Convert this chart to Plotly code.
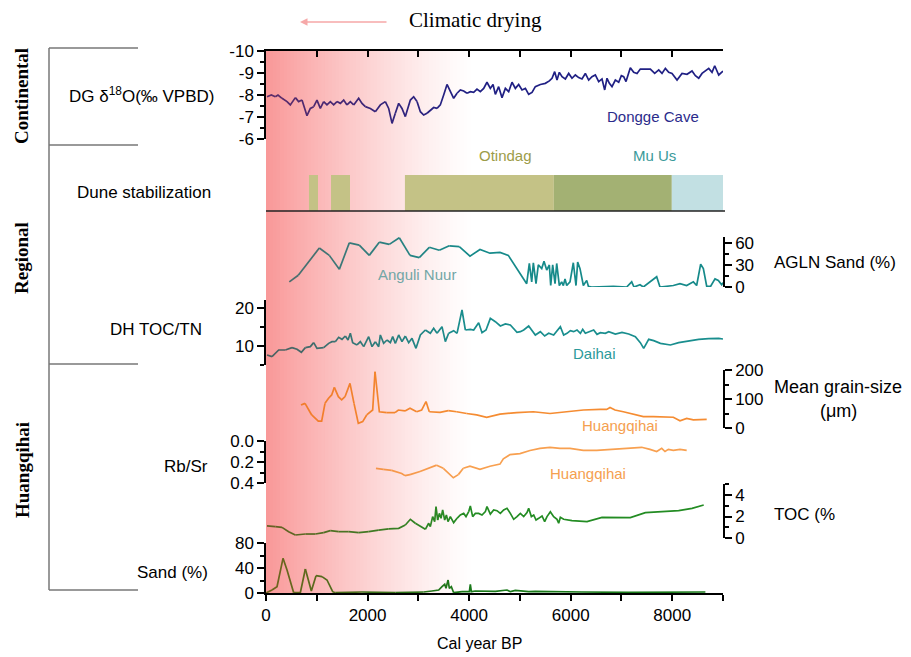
import plotly.graph_objects as go

# ---------------- data ----------------
X_TICKS = [0, 1000, 2000, 3000, 4000, 5000, 6000, 7000, 8000, 9000]
X_TICK_TEXT = ["0", "", "2000", "", "4000", "", "6000", "", "8000", ""]

DG_YEAR = [20,105,184,236,315,414,479,578,643,709,807,873,939,1004,1070,1136,1201,1267,1333,1398,
           1464,1530,1595,1661,1727,1825,1891,1956,2055,2153,2252,2350,2416,2482,2547,2613,2678,2744,2843,2908,
           2974,3040,3105,3171,3236,3302,3368,3433,3499,3565,3630,3696,3762,3827,3893,3959,4024,4090,4155,4221,
           4287,4352,4418,4471,4517,4582,4648,4714,4779,4845,4911,4976,5042,5108,5173,5239,5304,5403,5501,5580,
           5633,5685,5731,5777,5830,5895,5961,6026,6092,6158,6223,6289,6355,6420,6486,6552,6617,6670,6716,6762,
           6814,6880,6946,6998,7044,7090,7143,7175,7241,7307,7372,7471,7569,7655,7734,7799,7865,7931,7996,8095,
           8193,8292,8390,8456,8522,8587,8653,8719,8784,8837,8916,9000]
DG_D18O = [-7.92,-8.00,-7.92,-8.00,-7.85,-7.70,-7.55,-7.88,-7.70,-7.77,-7.06,-7.39,-7.47,-7.77,-7.39,-7.70,-7.55,-7.70,-7.55,-7.70,
           -7.62,-7.77,-7.55,-7.70,-7.55,-7.85,-7.62,-7.47,-7.39,-7.24,-7.55,-7.70,-7.39,-6.71,-7.17,-7.62,-7.39,-7.02,-7.77,-7.92,
           -7.70,-7.24,-7.09,-7.17,-7.32,-7.43,-7.39,-7.55,-8.00,-8.48,-8.15,-7.85,-8.08,-8.23,-8.18,-8.08,-8.15,-8.12,-8.27,-8.15,
           -8.30,-8.58,-8.30,-8.48,-8.03,-8.38,-7.88,-8.30,-8.15,-8.58,-8.30,-8.48,-8.23,-8.30,-8.03,-8.12,-8.38,-8.48,-8.53,-8.64,
           -8.76,-9.06,-8.68,-9.03,-8.83,-8.73,-8.98,-8.76,-8.91,-8.79,-8.73,-8.98,-8.68,-8.83,-8.91,-8.61,-8.73,-8.23,-8.76,-8.53,
           -8.38,-8.68,-8.58,-8.88,-8.83,-8.61,-8.98,-9.24,-9.03,-8.98,-9.18,-9.18,-9.18,-8.98,-9.14,-8.98,-9.21,-9.03,-8.98,-8.68,
           -8.98,-8.94,-9.09,-8.88,-8.76,-8.98,-9.09,-9.21,-9.03,-9.33,-8.91,-9.09]
DG_TICKS = [-10, -9, -8, -7, -6]
DG_TICK_TEXT = ["-10", "-9", "-8", "-7", "-6"]

DUNE_START = [846, 1280, 2736, 5669, 7992]
DUNE_END = [1024, 1654, 5669, 7992, 9000]

AN_YEAR = [459,636,1050,1247,1444,1640,1837,2034,2231,2428,2625,2836,3019,3216,3413,3610,3807,4017,4214,4411,
           4608,4772,5134,5186,5233,5265,5317,5363,5430,5475,5528,5580,5607,5646,5692,5725,5777,5823,5856,5889,
           5922,5987,6052,6105,6138,6184,6250,6316,6349,6414,6840,7103,7202,7247,7366,7431,7694,7759,8022,8153,
           8284,8416,8481,8560,8613,8679,8757,8843,8908,8974,9000]
AN_SAND = [7,16,53,43,24,60,57,43,61,58,67,43,40,54,50,56,55,42,51,46,
           47,43,4.5,32,7,33,4.5,30,25,35,23,30,2,30,4.5,32,2,7,2,11,
           2,7,33,2,34,25,2,9,1,0,1,0,7,0,3,0,14,0,2,4.5,
           2,7,2,31,25,1,1,11,9,3,6]
AN_TICKS = [0, 30, 60]

DH_YEAR = [20,118,250,381,512,611,696,775,873,939,1004,1136,1234,1300,1365,1431,1497,1562,1615,1661,
           1707,1792,1858,1924,2022,2088,2153,2219,2252,2317,2383,2449,2495,2547,2613,2678,2744,2810,2875,2954,
           3040,3138,3236,3302,3368,3466,3532,3597,3696,3762,3860,3926,4024,4090,4188,4254,4333,4418,4517,4615,
           4714,4812,4943,5009,5075,5173,5304,5403,5488,5567,5665,5797,5862,5928,5994,6059,6125,6191,6237,6289,
           6355,6453,6519,6585,6683,6749,6880,7011,7143,7274,7372,7438,7537,7635,7767,7964,8127,8324,8521,8718,
           8916,9000]
DH_TOCTN = [7.63,7.20,8.95,8.95,9.56,9.13,8.34,9.56,9.83,10.88,9.39,9.56,10.70,11.14,11.14,12.28,11.76,12.63,11.58,13.34,
            10.88,10.27,11.14,9.83,12.46,9.83,11.14,9.83,12.90,10.70,11.58,10.88,12.46,10.70,12.90,11.14,12.63,10.88,12.02,9.39,
            12.90,14.21,13.34,14.65,13.34,15.09,11.14,13.34,14.04,13.34,19.47,14.21,14.39,14.21,16.14,13.51,14.21,17.28,16.40,15.26,
            15.79,15.53,13.60,13.77,14.21,15.26,12.90,13.77,12.63,13.34,12.90,15.09,12.90,13.34,14.04,13.77,14.21,13.34,14.39,13.34,
            13.77,14.21,13.07,13.51,13.34,13.77,13.16,13.60,13.16,12.46,10.88,9.39,11.76,11.41,10.70,10.27,10.88,11.41,11.76,11.93,
            12.02,11.84]
DH_TICKS = [10, 20]

GS_YEAR = [689,768,900,1030,1096,1162,1228,1293,1346,1425,1490,1556,1654,1733,1818,1904,1983,2062,2101,2147,
           2200,2232,2377,2541,2606,2737,2836,2967,3065,3151,3216,3427,3591,3755,3952,4149,4346,4608,4937,5265,
           5593,5922,6250,6578,6709,6775,6873,7037,7234,7431,7628,7825,8022,8153,8285,8416,8547,8679]
GS_MEAN = [79,85,45,24,24,85,102,114,140,108,97,108,154,85,16,22,45,56,62,194,
           120,56,53,53,62,59,68,56,62,91,56,54,60,56,50,45,37,48,53,56,
           50,56,62,64,64,71,62,56,48,39,39,39,37,25,33,28,30,30]
GS_TICKS = [0, 100, 200]

RS_YEAR = [2166,2310,2475,2606,2672,2737,2836,3033,3230,3361,3492,3624,3689,3788,3886,4017,4214,4411,4608,4674,
           4805,5002,5199,5396,5593,5790,5987,6250,6513,6775,7103,7398,7562,7694,7793,7858,7924,8022,8153,8285]
RS_RATIO = [0.26,0.27,0.28,0.30,0.31,0.33,0.32,0.29,0.25,0.23,0.26,0.32,0.35,0.32,0.26,0.24,0.27,0.24,0.22,0.17,
            0.13,0.12,0.09,0.07,0.06,0.07,0.07,0.09,0.09,0.08,0.07,0.06,0.08,0.10,0.07,0.10,0.08,0.09,0.08,0.09]
RS_TICKS = [0.0, 0.2, 0.4]

TOC_YEAR = [20,184,315,446,578,775,972,1136,1267,1431,1628,1825,2022,2219,2416,2613,2744,2843,2941,3040,
            3138,3204,3236,3282,3322,3348,3381,3414,3447,3479,3519,3552,3585,3630,3696,3762,3827,3893,3939,3992,
            4024,4070,4123,4188,4254,4320,4352,4418,4484,4549,4615,4681,4746,4812,4878,4943,5009,5075,5140,5173,
            5226,5272,5318,5370,5436,5488,5534,5600,5665,5731,5764,5797,5862,6026,6322,6617,6880,7175,7471,7799,
            8127,8390,8620]
TOC_PCT = [1.12,1.06,0.99,0.59,0.28,0.37,0.37,0.50,0.68,0.59,0.59,0.50,0.59,0.74,0.84,0.90,1.21,1.74,1.37,1.06,
           0.81,1.37,1.06,1.99,1.52,2.92,1.67,2.29,1.83,2.61,1.67,2.14,1.52,1.99,1.43,1.83,2.14,2.29,1.99,2.45,
           2.98,1.99,2.29,2.29,2.14,2.45,2.92,2.23,2.61,2.54,2.29,2.61,2.76,2.29,1.74,1.99,2.29,1.99,2.36,2.76,
           1.99,2.14,1.67,1.83,2.05,1.52,1.99,2.45,1.99,1.74,1.37,1.92,1.74,1.61,1.52,1.92,1.92,1.89,2.36,2.45,
           2.54,2.76,3.07]
TOC_TICKS = [0, 2, 4]

SAND_YEAR = [0,118,217,335,414,545,676,775,893,985,1103,1201,1313,1365,1891,2547,3105,3269,3401,3466,
             3519,3545,3585,3611,3650,3696,3860,4005,4024,4044,4123,4386,4517,4746,4812,4911,5173,5304,5698,6223,
             7143,7799,8653]
SAND_PCT = [0,4.8,10.2,55.5,36.8,0.5,0.5,38.4,3.2,27.7,26.2,20.8,2.1,0.5,1.6,0.5,1.6,3.2,4.8,10.2,
            13.9,7.5,20.8,7.5,10.2,0.5,2.1,2.1,13.9,2.1,3.2,2.1,2.7,4.8,2.1,4.3,2.1,2.7,2.1,1.6,
            1.1,1.1,1.6]
SAND_TICKS = [0, 40, 80]

# ---------------- layout helpers ----------------
# the page body has an 8px margin, so the figure starts at window pixel (8, 8)
OFF = 8
W, H = 903, 649
def px(x): return (x - OFF) / W
def py(y): return 1 - (y - OFF) / H

X0, X1 = 266, 723
SANS = "Liberation Sans, Arial, sans-serif"
SERIF = "Liberation Serif, Times New Roman, serif"

GRAD_END = 4100
PINK = (249, 152, 152)
WHITE = (255, 255, 255)

def grad_a(year):
    return max(0.0, 1 - year / GRAD_END) ** 1.25

def mix(c_base, c_tint, a):
    return "rgb(%d,%d,%d)" % tuple(round(c_base[i] * (1 - a) + c_tint[i] * a) for i in range(3))

fig = go.Figure()

# background gradient ("climatic drying" shading)
n = 60
step = GRAD_END / n
for k in range(n):
    a = grad_a((k + 0.5) * step)
    fig.add_shape(type="rect", xref="x", yref="paper",
                  x0=k * step, x1=(k + 1) * step + (step * 0.5 if k < n - 1 else 0),
                  y0=py(593), y1=py(51),
                  fillcolor=mix(WHITE, PINK, a), line_width=0, layer="below")

def add_graded(xs, ys, yaxis, right, left, width=1.5):
    edges = [i * 200 for i in range(21)] + [99999]
    for k in range(len(edges) - 1):
        idx = [i for i, x in enumerate(xs) if edges[k] <= x < edges[k + 1]]
        if not idx:
            continue
        s = max(idx[0] - 1, 0)
        seg = list(range(s, idx[-1] + 1))
        if len(seg) < 2:
            continue
        xm = (xs[seg[0]] + xs[seg[-1]]) / 2
        a = grad_a(xm)
        fig.add_trace(go.Scatter(
            x=[xs[i] for i in seg], y=[ys[i] for i in seg],
            xaxis="x", yaxis=yaxis, mode="lines",
            line=dict(color=mix(right, left, a), width=width),
            hoverinfo="skip", showlegend=False))

# dune bars
DUNE_COLORS = ["#c4c286", "#c4c286", "#c4c286", "#a3b173", "#c2e0e3"]
fig.add_trace(go.Bar(
    orientation="h", y=[0.5] * len(DUNE_START),
    x=[e - s for s, e in zip(DUNE_START, DUNE_END)], base=DUNE_START,
    width=1, marker=dict(color=DUNE_COLORS, line_width=0),
    xaxis="x", yaxis="y2", hoverinfo="skip", showlegend=False))

add_graded(DG_YEAR, DG_D18O, "y", (32, 32, 132), (95, 45, 105), 1.7)
add_graded(AN_YEAR, AN_SAND, "y3", (22, 138, 138), (85, 105, 105), 1.7)
add_graded(DH_YEAR, DH_TOCTN, "y4", (25, 142, 142), (80, 95, 95), 1.7)
add_graded(GS_YEAR, GS_MEAN, "y5", (245, 140, 50), (240, 120, 40), 1.7)
add_graded(RS_YEAR, RS_RATIO, "y6", (248, 160, 80), (240, 130, 60), 1.7)
add_graded(TOC_YEAR, TOC_PCT, "y7", (35, 140, 35), (105, 95, 35), 1.7)
add_graded(SAND_YEAR, SAND_PCT, "y8", (25, 120, 25), (115, 100, 30), 1.7)

# dummy trace so the top frame axis is drawn
fig.add_trace(go.Scatter(x=[None], y=[None], xaxis="x2", yaxis="y", showlegend=False, hoverinfo="skip"))

tickfont = dict(family=SANS, size=17, color="black")
common = dict(showline=True, linecolor="black", linewidth=1.5, ticks="outside",
              tickcolor="black", tickwidth=1.5, ticklen=7, showgrid=False,
              zeroline=False, tickfont=tickfont, fixedrange=True, automargin=False)
def minor(vals=None, dtick=None):
    d = dict(ticks="outside", ticklen=4, tickcolor="black", tickwidth=1.5, showgrid=False)
    if vals is not None:
        d["tickvals"] = vals
    if dtick is not None:
        d["dtick"] = dtick
    return d

xdom = [px(X0), px(X1)]
fig.update_layout(
    template="none",
    width=W, height=H, autosize=False,
    margin=dict(l=0, r=0, t=0, b=0, pad=0),
    paper_bgcolor="white", plot_bgcolor="rgba(0,0,0,0)",
    showlegend=False,
    font=dict(family=SANS, size=17, color="black"),
    xaxis=dict(domain=xdom, range=[0, 9000], anchor="y8", tickmode="array",
               tickvals=X_TICKS, ticktext=X_TICK_TEXT, **{**common, "ticklen": 6}),
    xaxis2=dict(domain=xdom, range=[0, 9000], overlaying="x", anchor="y", side="top",
                tickmode="array", tickvals=X_TICKS, showticklabels=False,
                **{**common, "ticks": "inside", "ticklen": 6}),
    yaxis=dict(domain=[py(139), py(51)], range=[-6, -10], anchor="x", side="left",
               tickmode="array", tickvals=DG_TICKS, ticktext=DG_TICK_TEXT,
               minor=minor(dtick=0.5), **common),
    yaxis2=dict(domain=[py(211), py(175)], range=[0, 1], anchor="x", visible=False,
                fixedrange=True, automargin=False),
    yaxis3=dict(domain=[py(287), py(237)], range=[0, 68], anchor="x", side="right",
                tickmode="array", tickvals=AN_TICKS, minor=minor(vals=[15, 45]), **common),
    yaxis4=dict(domain=[py(365), py(300.4)], range=[5, 22], anchor="x", side="left",
                tickmode="array", tickvals=DH_TICKS, minor=minor(vals=[5, 15]), **common),
    yaxis5=dict(domain=[py(428), py(370)], range=[0, 200], anchor="x", side="right",
                tickmode="array", tickvals=GS_TICKS, minor=minor(vals=[50, 150]), **common),
    yaxis6=dict(domain=[py(483), py(441)], range=[0.4, 0], anchor="x", side="left",
                tickmode="array", tickvals=RS_TICKS, tickformat=".1f",
                minor=minor(vals=[0.1, 0.3]), **common),
    yaxis7=dict(domain=[py(538), py(484.25)], range=[0, 5], anchor="x", side="right",
                tickmode="array", tickvals=TOC_TICKS, minor=minor(vals=[1, 3, 5]), **common),
    yaxis8=dict(domain=[py(593), py(543)], range=[0, 80], anchor="x", side="left",
                tickmode="array", tickvals=SAND_TICKS, minor=minor(vals=[20, 60]), **common),
)

# dune panel base line
fig.add_shape(type="line", xref="paper", yref="paper", x0=px(266), x1=px(725),
              y0=py(211), y1=py(211), line=dict(color="#222222", width=1.5))

# bracket lines on the left
GRAY = "#777777"
fig.add_shape(type="line", xref="paper", yref="paper", x0=px(49), x1=px(49),
              y0=py(48), y1=py(590), line=dict(color=GRAY, width=1.5))
for yy in [48, 145, 364, 590]:
    fig.add_shape(type="line", xref="paper", yref="paper", x0=px(49), x1=px(138),
                  y0=py(yy), y1=py(yy), line=dict(color=GRAY, width=1.5))

def ann(text, x, y, size=17, color="black", family=SANS, xanchor="center", **kw):
    fig.add_annotation(text=text, x=px(x), y=py(y), xref="paper", yref="paper",
                       xanchor=xanchor, yanchor="middle",
                       showarrow=False, font=dict(family=family, size=size, color=color), **kw)

# title and arrow
ann("Climatic drying", 475, 20, size=21, family=SERIF)
fig.add_annotation(x=px(300), y=py(22), xref="paper", yref="paper", ax=88, ay=0,
                   text="", showarrow=True, arrowhead=2, arrowsize=1, arrowwidth=1.5,
                   arrowcolor="#f6a8a8")

# group labels
ann("<b>Continental</b>", 22, 96, size=19, family=SERIF, textangle=-90)
ann("<b>Regional</b>", 22, 258, size=19, family=SERIF, textangle=-90)
ann("<b>Huangqihai</b>", 22, 470, size=19, family=SERIF, textangle=-90)

# proxy labels
ann("DG δ<sup>18</sup>O(‰ VPBD)", 141, 95)
ann("Dune stabilization", 144, 192)
ann("DH TOC/TN", 156, 329)
ann("Rb/Sr", 186, 466)
ann("Sand (%)", 172, 572)
ann("AGLN Sand (%)", 772, 262, xanchor="left")
ann("Mean grain-size", 838, 387, size=18)
ann("(μm)", 838, 411, size=18)
ann("TOC (%", 772, 514, xanchor="left")
ann("Cal year BP", 480, 643, size=16)

# series labels
ann("Dongge Cave", 653, 117, size=15, color="#2b2b8b")
ann("Otindag", 505, 155, size=15, color="#9c9c48")
ann("Mu Us", 654, 155, size=15, color="#3a9a9a")
ann("Anguli Nuur", 417, 274, size=15, color="#72a6a6")
ann("Daihai", 594, 353, size=15, color="#2a9a9a")
ann("Huangqihai", 620, 425, size=15, color="#f5a050")
ann("Huangqihai", 588, 473, size=15, color="#f5a050")

fig.write_html("out.html")
